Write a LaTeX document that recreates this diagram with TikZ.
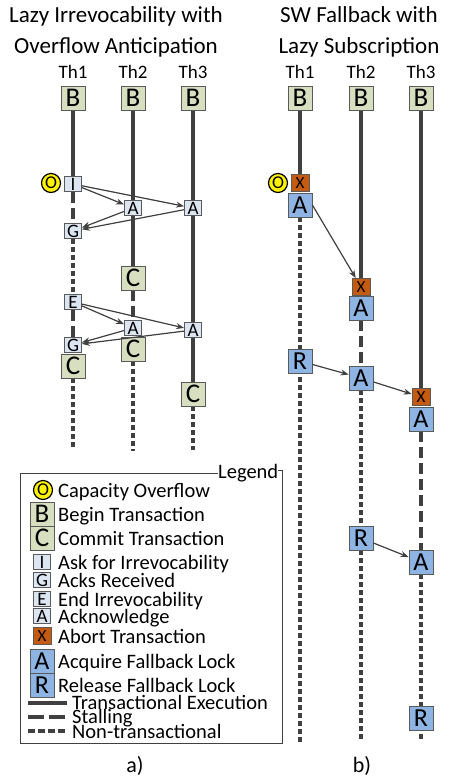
\documentclass[tikz,border=0pt]{standalone}
\usepackage{fontspec}
\setmainfont{Carlito}
\usetikzlibrary{arrows.meta,backgrounds}
\pgfdeclarelayer{bg}
\pgfsetlayers{bg,main}
\definecolor{evgreen}{RGB}{216,222,192}
\definecolor{irblue}{RGB}{220,230,242}
\definecolor{lockblue}{RGB}{142,180,227}
\definecolor{abortorange}{RGB}{197,90,17}
\definecolor{threadgray}{RGB}{64,64,64}
\definecolor{boxgray}{RGB}{90,90,90}
\tikzstyle{msg} = [->,>={Stealth[length=8pt,width=6pt]},line width=1.2pt,draw=threadgray]
\tikzset{evbox/.style={draw=boxgray,line width=0.8pt,fill=evgreen,inner sep=0pt,minimum size=24pt,font=\fontsize{27}{27}\selectfont},
  irbox/.style={draw=boxgray,line width=0.8pt,fill=irblue,inner sep=0pt,minimum width=17pt,minimum height=15pt,font=\fontsize{19}{19}\selectfont},
  lockbox/.style={draw=boxgray,line width=0.8pt,fill=lockblue,inner sep=0pt,minimum size=24pt,font=\fontsize{26}{26}\selectfont},
  abortbox/.style={draw=boxgray,line width=0.8pt,fill=abortorange,inner sep=0pt,minimum width=18pt,minimum height=17pt,font=\fontsize{17}{17}\selectfont},
  ovf/.style={circle,draw=black,line width=1.2pt,fill=yellow,inner sep=0pt,minimum size=19pt,font=\fontsize{18}{18}\selectfont},
  txline/.style={line width=3.2pt,draw=threadgray},
  stall/.style={txline,dash pattern=on 11pt off 5pt},
  nontx/.style={txline,dash pattern=on 5pt off 3pt},
  legtext/.style={anchor=base west,inner sep=0pt,font=\fontsize{20.5}{20.5}\selectfont},
  headtext/.style={anchor=base,inner sep=0pt,align=center,font=\fontsize{23}{31}\selectfont}}

\begin{document}
\begin{tikzpicture}[x=1pt,y=-1pt]
    \useasboundingbox (0,0) rectangle (452,780);

    % titles and thread names
    \node [headtext] (titleA) at (116,53) {Lazy Irrevocability with\\Overflow Anticipation};
    \node [headtext] (titleB) at (359,53) {SW Fallback with\\Lazy Subscription};
    \foreach \x [count=\i] in {73,133,193}
        {
        \node [anchor=base, font=\fontsize{19}{19}\selectfont] (thA\i) at (\x,78) {Th\i};
        \node [evbox] (beginA\i) at (\x,98) {B};
        }
    \foreach \x [count=\i] in {300,361,421}
        {
        \node [anchor=base, font=\fontsize{19}{19}\selectfont] (thB\i) at (\x,78) {Th\i};
        \node [evbox] (beginB\i) at (\x,98) {B};
        }

    % a) lazy irrevocability
    \node [ovf] (ovfA) at (51,183) {O};
    \node [irbox] (irrA1) at (73,184) {I};
    \node [irbox] (ackA2) at (133,208) {A};
    \node [irbox] (ackA3) at (193,208) {A};
    \node [irbox] (acksA1) at (73,231) {G};
    \node [evbox] (commitA2) at (133,278) {C};
    \node [irbox] (endA1) at (73,302) {E};
    \node [irbox] (ackA2b) at (133,328) {A};
    \node [irbox] (ackA3b) at (193,330) {A};
    \node [irbox] (acksA1b) at (73,345) {G};
    \node [evbox] (commitA1) at (73,366) {C};
    \node [evbox] (commitA2b) at (133,349) {C};
    \node [evbox] (commitA3) at (193,394) {C};
    \coordinate (stopA1) at (73,450);
    \coordinate (stopA2) at (133,451);
    \coordinate (stopA3) at (193,450);

    % b) sw fallback
    \node [ovf] (ovfB) at (278,183) {O};
    \node [abortbox] (abortB1) at (300,183) {X};
    \node [lockbox] (acqB1) at (300,205) {A};
    \node [abortbox] (abortB2) at (361,287) {X};
    \node [lockbox] (acqB2) at (361,308) {A};
    \node [lockbox] (relB1) at (300,361) {R};
    \node [lockbox] (acqB2b) at (361,378) {A};
    \node [abortbox] (abortB3) at (421,397) {X};
    \node [lockbox] (acqB3) at (421,419) {A};
    \node [lockbox] (relB2) at (361,538) {R};
    \node [lockbox] (acqB3b) at (421,562) {A};
    \node [lockbox] (relB3) at (421,718) {R};
    \coordinate (stopB1) at (300,742);
    \coordinate (stopB2) at (361,742);
    \coordinate (stopB3) at (421,742);

    \begin{pgfonlayer}{bg} % thread lines under the boxes
    \draw [txline] (beginA1) -- (irrA1);
    \draw [stall] (irrA1) -- (acksA1);
    \draw [nontx] (acksA1) -- (endA1);
    \draw [stall] (endA1) -- (acksA1b);
    \draw [nontx] (commitA1) -- (stopA1);
    \draw [txline] (beginA2) -- (commitA2);
    \draw [stall] (commitA2) -- (ackA2b);
    \draw [nontx] (commitA2b) -- (stopA2);
    \draw [txline] (beginA3) -- (commitA3);
    \draw [nontx] (commitA3) -- (stopA3);

    \draw [txline] (beginB1) -- (abortB1);
    \draw [nontx] (acqB1) -- (stopB1);
    \draw [txline] (beginB2) -- (abortB2);
    \draw [stall] (acqB2) -- (acqB2b);
    \draw [nontx] (acqB2b) -- (stopB2);
    \draw [txline] (beginB3) -- (abortB3);
    \draw [stall] (acqB3) -- (acqB3b);
    \draw [nontx] (acqB3b) -- (stopB3);
    \end{pgfonlayer}

    % messages
    \foreach \k in {2,3}
        {
        \draw [msg] (irrA1) -- (ackA\k);
        \draw [msg] (ackA\k) -- (acksA1);
        \draw [msg] (endA1) -- (ackA\k b);
        \draw [msg] (ackA\k b) -- (acksA1b);
        }
    \draw [msg] (acqB1.east) -- (abortB2);
    \draw [msg] (relB1) -- (acqB2b);
    \draw [msg] (acqB2b) -- (abortB3);
    \draw [msg] (relB2) -- (acqB3b);

    % legend
    \node [legtext] (legTitle) at (218,478) {Legend};
    \draw [draw=threadgray, line width=0.9pt] (legTitle.west |- 0,473) -- (20,473) -- (20,743) -- (282,743) -- (282,470) -- (legTitle.east |- 0,470);
    \node [ovf] (legOvf) at (43,490) {O};
    \node [evbox] (legBegin) at (42,514) {B};
    \node [evbox] (legCommit) at (42,538) {C};
    \node [irbox] (legIrr) at (42,562) {I};
    \node [irbox] (legAcks) at (42,580) {G};
    \node [irbox] (legEnd) at (42,599) {E};
    \node [irbox] (legAck) at (42,616) {A};
    \node [abortbox] (legAbort) at (42,636) {X};
    \node [lockbox] (legAcq) at (42,661) {A};
    \node [lockbox] (legRel) at (42,685) {R};
    \foreach \y/\txt in {490/Capacity Overflow,514/Begin Transaction,538/Commit Transaction,
        562/Ask for Irrevocability,580/Acks Received,599/End Irrevocability,616/Acknowledge,
        636/Abort Transaction,661/Acquire Fallback Lock,685/Release Fallback Lock}
        \node [legtext] (legTxt\y) at (58,\y+7) {\txt};
    \coordinate (legTxL) at (28,703); \coordinate (legTxR) at (67,703);
    \coordinate (legStL) at (28,717); \coordinate (legStR) at (67,717);
    \coordinate (legNtL) at (28,731); \coordinate (legNtR) at (67,731);
    \draw [txline] (legTxL) -- (legTxR);
    \draw [stall, dash pattern=on 16pt off 5pt] (legStL) -- (legStR);
    \draw [nontx, dash pattern=on 7pt off 3pt] (legNtL) -- (legNtR);
    \node [legtext] (legTxt703) at (72,709) {Transactional Execution};
    \node [legtext] (legTxt717) at (72,723) {Stalling};
    \node [legtext] (legTxt731) at (72,738) {Non-transactional};

    % sub-figure captions
    \node [anchor=base, font=\fontsize{22}{22}\selectfont] (capA) at (135,772) {a)};
    \node [anchor=base, font=\fontsize{22}{22}\selectfont] (capB) at (362,772) {b)};
\end{tikzpicture}
\end{document}
